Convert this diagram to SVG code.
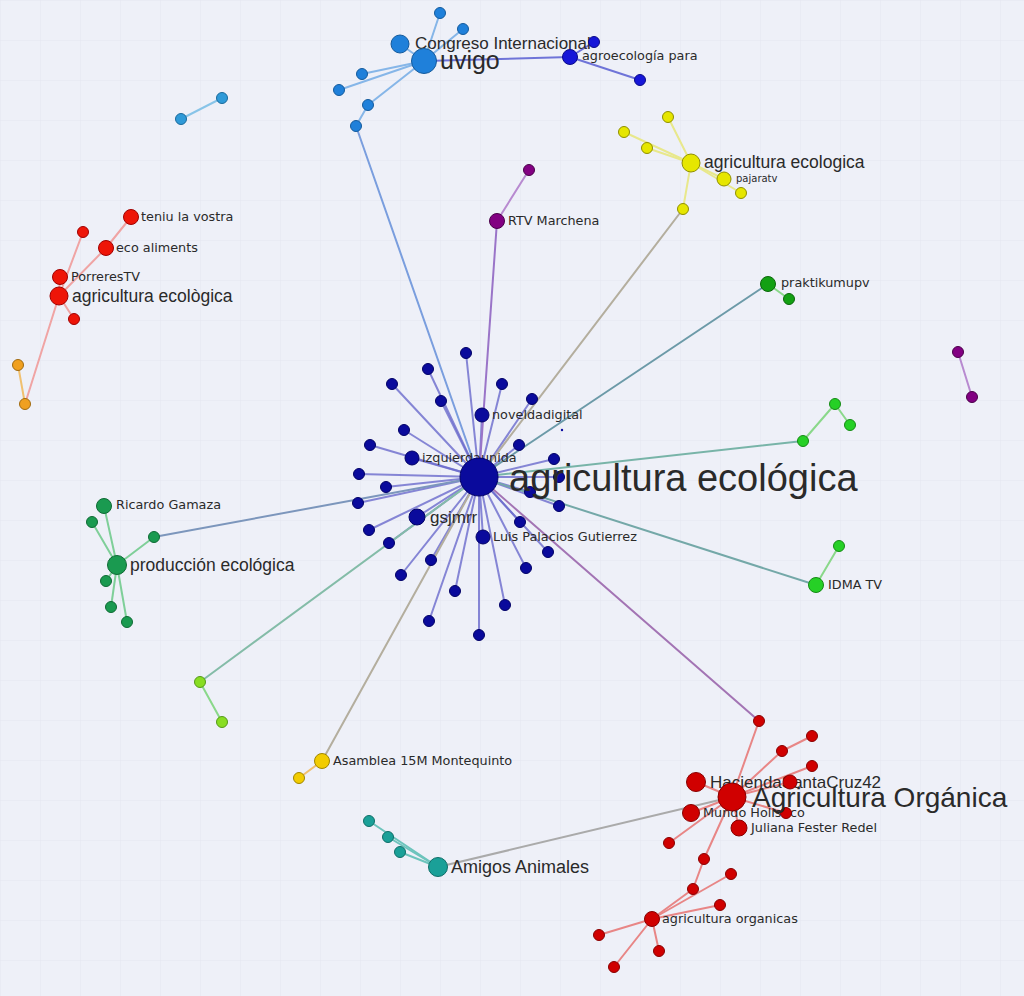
<svg xmlns="http://www.w3.org/2000/svg" width="1024" height="996" viewBox="0 0 1024 996">
<defs>
<pattern id="grid" width="40" height="40" patternUnits="userSpaceOnUse">
<path d="M40 0H0V40" fill="none" stroke="#e3e5ef" stroke-width="1"/>
</pattern>
<style>
.e{stroke-width:2;fill:none;stroke-linecap:round}
.eb{stroke:#6a6acc;stroke-opacity:.8}
.elb{stroke:#86b6e8}
.eab{stroke:#6f74d8}
.ey{stroke:#e8e88c}
.ep{stroke:#b88ad0}
.er{stroke:#f0a4a4}
.erd{stroke:#e88686}
.eg{stroke:#7fcf99}
.el{stroke:#8ad88a}
.et{stroke:#6cc4bc}
.eo{stroke:#f0c070}
.gray{stroke:#b4ae9e}
.teal{stroke:#6c9aa8}
.n{stroke-width:1}
.blue{fill:#0a0a9c;stroke:#000066}
.ub{fill:#1f80da;stroke:#145a9c}
.ab{fill:#1616d8;stroke:#0a0a88}
.lb{fill:#2f9ad8;stroke:#1a6a9c}
.yel{fill:#e6e600;stroke:#8f8f00}
.pur{fill:#820082;stroke:#4a004a}
.red{fill:#ee1508;stroke:#a00000}
.org{fill:#f0a020;stroke:#a06a10}
.dg{fill:#1a9a50;stroke:#0e6a34}
.pg{fill:#13a013;stroke:#0a660a}
.lg{fill:#26d026;stroke:#158a15}
.lime{fill:#88dd22;stroke:#55991a}
.gold{fill:#f2cc00;stroke:#a08600}
.tl{fill:#1aa098;stroke:#0f6e68}
.dr{fill:#d00000;stroke:#880000}
text{fill:#2a2a2a;font-family:"Liberation Sans",Arial,sans-serif}
.s{font-family:"DejaVu Sans","Liberation Sans",sans-serif;font-size:12.8px}
</style>
</defs>
<rect width="1024" height="996" fill="#eef0f8"/>
<rect width="1024" height="996" fill="url(#grid)"/>

<g id="connectors">
<g class="e eb">
<line x1="479" y1="477" x2="466" y2="353"/><line x1="479" y1="477" x2="428" y2="369"/><line x1="479" y1="477" x2="392" y2="384"/><line x1="479" y1="477" x2="502" y2="384"/><line x1="479" y1="477" x2="532" y2="399"/><line x1="479" y1="477" x2="441" y2="401"/><line x1="479" y1="477" x2="482" y2="415"/><line x1="479" y1="477" x2="404" y2="430"/><line x1="479" y1="477" x2="370" y2="445"/><line x1="479" y1="477" x2="519" y2="445"/><line x1="479" y1="477" x2="412" y2="458"/><line x1="479" y1="477" x2="554" y2="459"/><line x1="479" y1="477" x2="359" y2="474"/><line x1="479" y1="477" x2="386" y2="487"/><line x1="479" y1="477" x2="559" y2="477"/><line x1="479" y1="477" x2="530" y2="492"/><line x1="479" y1="477" x2="358" y2="503"/><line x1="479" y1="477" x2="559" y2="506"/><line x1="479" y1="477" x2="417" y2="517"/><line x1="479" y1="477" x2="369" y2="530"/><line x1="479" y1="477" x2="520" y2="522"/><line x1="479" y1="477" x2="389" y2="543"/><line x1="479" y1="477" x2="483" y2="537"/><line x1="479" y1="477" x2="548" y2="552"/><line x1="479" y1="477" x2="431" y2="560"/><line x1="479" y1="477" x2="526" y2="568"/><line x1="479" y1="477" x2="401" y2="575"/><line x1="479" y1="477" x2="455" y2="591"/><line x1="479" y1="477" x2="505" y2="605"/><line x1="479" y1="477" x2="429" y2="621"/><line x1="479" y1="477" x2="479" y2="635"/>
</g>
<line class="e" stroke="#7a9ede" x1="479" y1="477" x2="356" y2="126"/>
<line class="e" stroke="#9a74c8" x1="479" y1="477" x2="497" y2="221"/>
<line class="e gray" x1="479" y1="477" x2="683" y2="209"/>
<line class="e teal" x1="479" y1="477" x2="768" y2="284"/>
<line class="e" stroke="#78b4a8" x1="479" y1="477" x2="803" y2="441"/>
<line class="e" stroke="#74a8a8" x1="479" y1="477" x2="816" y2="585"/>
<line class="e" stroke="#7c96bc" x1="479" y1="477" x2="154" y2="537"/>
<line class="e" stroke="#84bca8" x1="479" y1="477" x2="200" y2="682"/>
<line class="e gray" x1="479" y1="477" x2="322" y2="761"/>
<line class="e" stroke="#a374b4" x1="479" y1="477" x2="759" y2="721"/>
<line class="e" stroke="#aaaaaa" x1="438" y1="867" x2="732" y2="797"/>
<g class="e elb">
<line x1="424" y1="61" x2="440" y2="13"/><line x1="424" y1="61" x2="463" y2="29"/><line x1="424" y1="61" x2="400" y2="44"/><line x1="424" y1="61" x2="362" y2="74"/><line x1="424" y1="61" x2="339" y2="90"/><line x1="424" y1="61" x2="368" y2="105"/><line x1="368" y1="105" x2="356" y2="126"/>
</g>
<g class="e eab">
<line x1="424" y1="61" x2="570" y2="57"/><line x1="570" y1="57" x2="594" y2="42"/><line x1="570" y1="57" x2="640" y2="80"/>
</g>
<line class="e" stroke="#88c4e8" x1="181" y1="119" x2="222" y2="98"/>
<g class="e ey">
<line x1="691" y1="163" x2="668" y2="117"/><line x1="691" y1="163" x2="624" y2="132"/><line x1="691" y1="163" x2="647" y2="148"/><line x1="691" y1="163" x2="724" y2="179"/><line x1="691" y1="163" x2="741" y2="193"/><line x1="691" y1="163" x2="683" y2="209"/>
</g>
<line class="e ep" x1="497" y1="221" x2="529" y2="170"/>
<line class="e ep" x1="958" y1="352" x2="972" y2="397"/>
<g class="e er">
<line x1="59" y1="296" x2="106" y2="248"/><line x1="106" y1="248" x2="131" y2="217"/><line x1="59" y1="296" x2="83" y2="232"/><line x1="59" y1="296" x2="60" y2="277"/><line x1="59" y1="296" x2="74" y2="319"/><line x1="59" y1="296" x2="25" y2="404"/>
</g>
<line class="e eo" x1="25" y1="404" x2="18" y2="365"/>
<line class="e el" x1="768" y1="284" x2="789" y2="299"/>
<g class="e el">
<line x1="803" y1="441" x2="835" y2="404"/><line x1="835" y1="404" x2="850" y2="425"/><line x1="816" y1="585" x2="839" y2="546"/><line x1="200" y1="682" x2="222" y2="722"/>
</g>
<g class="e eg">
<line x1="117" y1="565" x2="104" y2="506"/><line x1="117" y1="565" x2="92" y2="522"/><line x1="117" y1="565" x2="154" y2="537"/><line x1="117" y1="565" x2="106" y2="581"/><line x1="117" y1="565" x2="111" y2="607"/><line x1="117" y1="565" x2="127" y2="622"/>
</g>
<line class="e eo" x1="322" y1="761" x2="299" y2="778"/>
<g class="e et">
<line x1="438" y1="867" x2="369" y2="821"/><line x1="438" y1="867" x2="388" y2="837"/><line x1="438" y1="867" x2="400" y2="852"/>
</g>
<g class="e erd">
<line x1="732" y1="797" x2="759" y2="721"/><line x1="732" y1="797" x2="782" y2="751"/><line x1="782" y1="751" x2="812" y2="736"/><line x1="732" y1="797" x2="812" y2="766"/><line x1="732" y1="797" x2="790" y2="782"/><line x1="732" y1="797" x2="786" y2="813"/><line x1="732" y1="797" x2="696" y2="782"/><line x1="732" y1="797" x2="691" y2="813"/><line x1="732" y1="797" x2="669" y2="843"/><line x1="732" y1="797" x2="739" y2="828"/><line x1="732" y1="797" x2="704" y2="859"/><line x1="704" y1="859" x2="693" y2="889"/><line x1="693" y1="889" x2="652" y2="919"/><line x1="652" y1="919" x2="731" y2="874"/><line x1="652" y1="919" x2="720" y2="905"/><line x1="652" y1="919" x2="599" y2="935"/><line x1="652" y1="919" x2="614" y2="967"/><line x1="652" y1="919" x2="659" y2="951"/>
</g>
</g>

<g id="hub-satellites">
<g class="n blue">
<circle cx="466" cy="353" r="5.5"/><circle cx="428" cy="369" r="5.5"/><circle cx="392" cy="384" r="5.5"/><circle cx="502" cy="384" r="5.5"/><circle cx="532" cy="399" r="5.5"/><circle cx="441" cy="401" r="5.5"/><circle cx="404" cy="430" r="5.5"/><circle cx="370" cy="445" r="5.5"/><circle cx="519" cy="445" r="5.5"/><circle cx="554" cy="459" r="5.5"/><circle cx="359" cy="474" r="5.5"/><circle cx="386" cy="487" r="5.5"/><circle cx="559" cy="477" r="5.5"/><circle cx="530" cy="492" r="5.5"/><circle cx="358" cy="503" r="5.5"/><circle cx="559" cy="506" r="5.5"/><circle cx="369" cy="530" r="5.5"/><circle cx="520" cy="522" r="5.5"/><circle cx="389" cy="543" r="5.5"/><circle cx="548" cy="552" r="5.5"/><circle cx="431" cy="560" r="5.5"/><circle cx="526" cy="568" r="5.5"/><circle cx="401" cy="575" r="5.5"/><circle cx="455" cy="591" r="5.5"/><circle cx="505" cy="605" r="5.5"/><circle cx="429" cy="621" r="5.5"/><circle cx="479" cy="635" r="5.5"/>
</g>
<circle cx="562" cy="430" r="1.2" fill="#0a0aa0"/>
</g>
<g id="node-noveldadigital"><circle class="n blue" cx="482" cy="415" r="7"/><text class="s" x="492" y="419">noveldadigital</text></g>
<g id="node-izquierdaunida"><circle class="n blue" cx="412" cy="458" r="7"/><text class="s" x="422" y="462">izquierdaunida</text></g>
<g id="node-gsjmrr"><circle class="n blue" cx="417" cy="517" r="8"/><text x="430" y="523" font-size="17">gsjmrr</text></g>
<g id="node-luis"><circle class="n blue" cx="483" cy="537" r="7"/><text class="s" x="493" y="541">Luis Palacios Gutierrez</text></g>
<g id="node-hub"><circle class="n blue" cx="479" cy="477" r="19"/><text x="509" y="491" font-size="38">agricultura ecológica</text></g>

<g id="cluster-uvigo">
<g class="n ub"><circle cx="440" cy="13" r="5.5"/><circle cx="463" cy="29" r="5.5"/><circle cx="362" cy="74" r="5.5"/><circle cx="339" cy="90" r="5.5"/><circle cx="368" cy="105" r="5.5"/><circle cx="356" cy="126" r="5.5"/></g>
</g>
<g id="node-congreso"><circle class="n ub" cx="400" cy="44" r="9"/><text x="415" y="49" font-size="17">Congreso Internacional</text></g>
<g id="node-uvigo"><circle class="n ub" cx="424" cy="61" r="12.5"/><text x="440" y="69" font-size="25">uvigo</text></g>
<g id="node-agroecologia"><circle class="n ab" cx="594" cy="42" r="5.5"/><circle class="n ab" cx="640" cy="80" r="5.5"/><circle class="n ab" cx="570" cy="57" r="7.5"/><text class="s" x="582" y="60">agroecología para</text></g>
<g id="pair-lightblue"><circle class="n lb" cx="181" cy="119" r="5.5"/><circle class="n lb" cx="222" cy="98" r="5.5"/></g>

<g id="cluster-yellow"><g class="n yel"><circle cx="668" cy="117" r="5.5"/><circle cx="624" cy="132" r="5.5"/><circle cx="647" cy="148" r="5.5"/><circle cx="741" cy="193" r="5.5"/><circle cx="683" cy="209" r="5.5"/></g></g>
<g id="node-agri-ecologica-yellow"><circle class="n yel" cx="691" cy="163" r="9"/><text x="704" y="168" font-size="17.5">agricultura ecologica</text></g>
<g id="node-pajaratv"><circle class="n yel" cx="724" cy="179" r="7"/><text class="s" x="736" y="182" style="font-size:10px">pajaratv</text></g>

<g id="node-rtv"><circle class="n pur" cx="529" cy="170" r="5.5"/><circle class="n pur" cx="497" cy="221" r="7.5"/><text class="s" x="508" y="225">RTV Marchena</text></g>
<g id="pair-purple"><circle class="n pur" cx="958" cy="352" r="5.5"/><circle class="n pur" cx="972" cy="397" r="5.5"/></g>

<g id="cluster-red-left"><g class="n red"><circle cx="83" cy="232" r="5.5"/><circle cx="74" cy="319" r="5.5"/></g><g class="n org"><circle cx="18" cy="365" r="5.5"/><circle cx="25" cy="404" r="5.5"/></g></g>
<g id="node-teniu"><circle class="n red" cx="131" cy="217" r="7.5"/><text class="s" x="141" y="221">teniu la vostra</text></g>
<g id="node-eco"><circle class="n red" cx="106" cy="248" r="7.5"/><text class="s" x="116" y="252">eco aliments</text></g>
<g id="node-porreres"><circle class="n red" cx="60" cy="277" r="7.5"/><text class="s" x="71" y="281">PorreresTV</text></g>
<g id="node-agri-ecologica-red"><circle class="n red" cx="59" cy="296" r="9"/><text x="72" y="302" font-size="17.5">agricultura ecològica</text></g>

<g id="node-praktikumupv"><circle class="n pg" cx="789" cy="299" r="5.5"/><circle class="n pg" cx="768" cy="284" r="7.5"/><text class="s" x="781" y="287">praktikumupv</text></g>
<g id="cluster-green-right"><g class="n lg"><circle cx="803" cy="441" r="5.5"/><circle cx="835" cy="404" r="5.5"/><circle cx="850" cy="425" r="5.5"/><circle cx="839" cy="546" r="5.5"/></g></g>
<g id="node-idma"><circle class="n lg" cx="816" cy="585" r="7.5"/><text class="s" x="828" y="589">IDMA TV</text></g>

<g id="cluster-produccion"><g class="n dg"><circle cx="92" cy="522" r="5.5"/><circle cx="154" cy="537" r="5.5"/><circle cx="106" cy="581" r="5.5"/><circle cx="111" cy="607" r="5.5"/><circle cx="127" cy="622" r="5.5"/></g></g>
<g id="node-ricardo"><circle class="n dg" cx="104" cy="506" r="7.5"/><text class="s" x="116" y="509">Ricardo Gamaza</text></g>
<g id="node-produccion"><circle class="n dg" cx="117" cy="565" r="9.5"/><text x="130" y="571" font-size="17.5">producción ecológica</text></g>

<g id="pair-lime"><circle class="n lime" cx="200" cy="682" r="5.5"/><circle class="n lime" cx="222" cy="722" r="5.5"/></g>
<g id="node-asamblea"><circle class="n gold" cx="299" cy="778" r="5.5"/><circle class="n gold" cx="322" cy="761" r="7.5"/><text class="s" x="333" y="765">Asamblea 15M Montequinto</text></g>

<g id="cluster-amigos"><g class="n tl"><circle cx="369" cy="821" r="5.5"/><circle cx="388" cy="837" r="5.5"/><circle cx="400" cy="852" r="5.5"/></g></g>
<g id="node-amigos"><circle class="n tl" cx="438" cy="867" r="9.5"/><text x="451" y="873" font-size="18">Amigos Animales</text></g>

<g id="node-hacienda"><circle class="n dr" cx="696" cy="782" r="9.5"/><text x="710" y="788" font-size="17">HaciendaSantaCruz42</text></g>
<g id="node-mundo"><circle class="n dr" cx="691" cy="813" r="8.5"/><text class="s" x="703" y="817">Mundo Holistico</text></g>
<g id="node-juliana"><circle class="n dr" cx="739" cy="828" r="8"/><text class="s" x="751" y="832">Juliana Fester Redel</text></g>
<g id="cluster-red-main"><g class="n dr"><circle cx="759" cy="721" r="5.5"/><circle cx="782" cy="751" r="5.5"/><circle cx="812" cy="736" r="5.5"/><circle cx="812" cy="766" r="5.5"/><circle cx="790" cy="782" r="7"/><circle cx="786" cy="813" r="5.5"/><circle cx="669" cy="843" r="5.5"/><circle cx="704" cy="859" r="5.5"/><circle cx="731" cy="874" r="5.5"/><circle cx="693" cy="889" r="5.5"/><circle cx="720" cy="905" r="5.5"/><circle cx="599" cy="935" r="5.5"/><circle cx="614" cy="967" r="5.5"/><circle cx="659" cy="951" r="5.5"/></g></g>
<g id="node-agri-organicas"><circle class="n dr" cx="652" cy="919" r="7.5"/><text class="s" x="662" y="923">agricultura organicas</text></g>
<g id="node-agri-organica"><circle class="n dr" cx="732" cy="797" r="14"/><text x="752" y="807" font-size="28">Agricultura Orgánica</text></g>
</svg>
